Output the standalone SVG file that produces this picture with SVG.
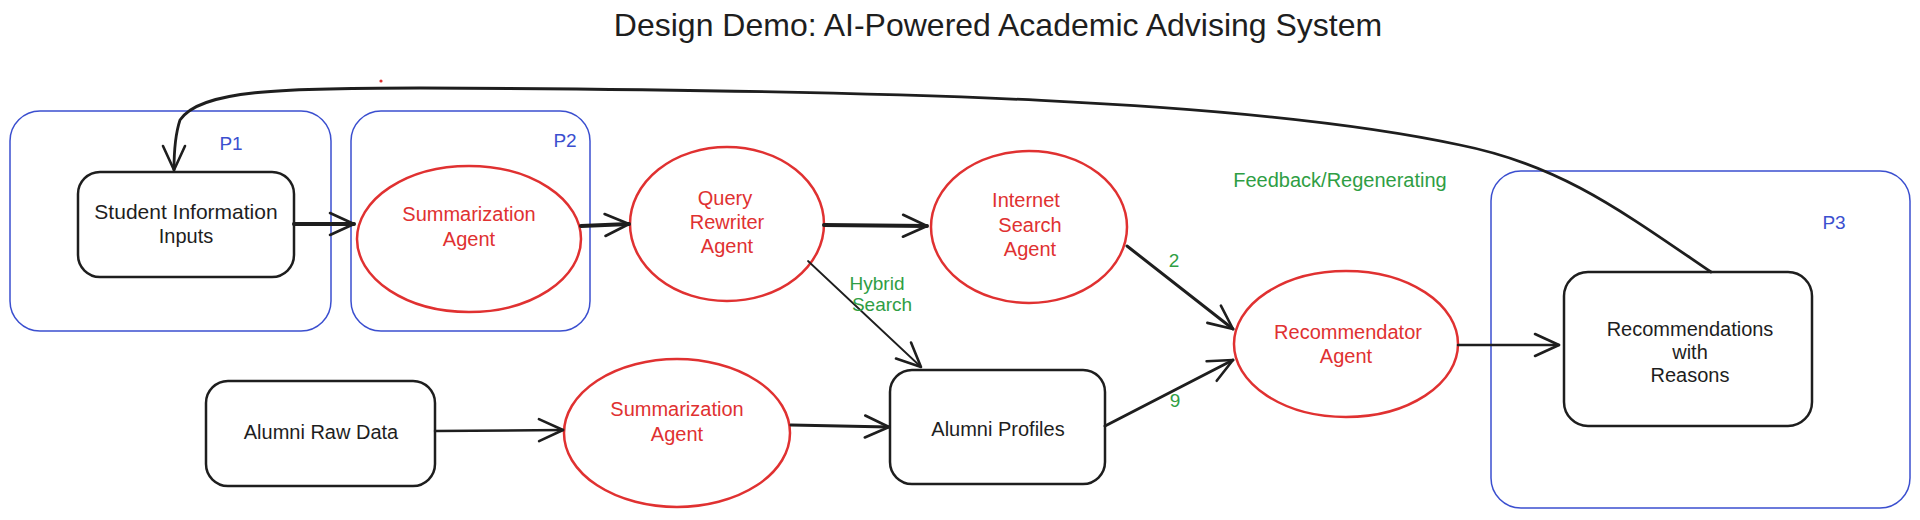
<svg xmlns="http://www.w3.org/2000/svg" width="1920" height="520" viewBox="0 0 1920 520">
<defs>
<marker id="arr" markerUnits="userSpaceOnUse" markerWidth="30" markerHeight="30" viewBox="-26 -14 30 28" refX="0" refY="0" orient="auto">
<path d="M-24,-11 L0,0 L-24,11" fill="none" stroke="#1e1e1e" stroke-width="2.6" stroke-linecap="round" stroke-linejoin="round"/>
</marker>
</defs>
<style>
text{font-family:"Liberation Sans","DejaVu Sans",sans-serif;text-anchor:middle;dominant-baseline:middle}
.t{font-size:20px;fill:#1e1e1e}
.r{font-size:20px;fill:#e03131}
.g{font-size:19px;fill:#2f9e44}
.b{font-size:19px;fill:#3b4fcf}
.grp{fill:none;stroke:#3b4fcf;stroke-width:1.5}
.box{fill:none;stroke:#1e1e1e;stroke-width:2.5}
.ell{fill:none;stroke:#e03131;stroke-width:2.5}
.c{fill:none;stroke:#1e1e1e;stroke-linecap:round}
</style>
<rect width="1920" height="520" fill="#ffffff"/>
<text x="998" y="28" style="font-size:32px;fill:#1e1e1e">Design Demo: AI-Powered Academic Advising System</text>

<g id="P1"><rect class="grp" x="10" y="111" width="321" height="220" rx="30"/><text class="b" x="231" y="145">P1</text></g>
<g id="P2"><rect class="grp" x="351" y="111" width="239" height="220" rx="30"/><text class="b" x="565" y="142">P2</text></g>
<g id="P3"><rect class="grp" x="1491" y="171" width="419" height="337" rx="30"/><text class="b" x="1834" y="224">P3</text></g>

<g id="student"><rect class="box" x="78" y="172" width="216" height="105" rx="22"/><text class="t" x="186" y="213" style="font-size:21px">Student Information</text><text class="t" x="186" y="238">Inputs</text></g>
<g id="summ1"><ellipse class="ell" cx="469" cy="239" rx="112" ry="73"/><text class="r" x="469" y="216">Summarization</text><text class="r" x="469" y="241">Agent</text></g>
<g id="query"><ellipse class="ell" cx="727" cy="224" rx="97" ry="77"/><text class="r" x="725" y="200">Query</text><text class="r" x="727" y="224">Rewriter</text><text class="r" x="727" y="248">Agent</text></g>
<g id="internet"><ellipse class="ell" cx="1029" cy="227" rx="98" ry="76"/><text class="r" x="1026" y="202">Internet</text><text class="r" x="1030" y="227">Search</text><text class="r" x="1030" y="251">Agent</text></g>
<g id="recommendator"><ellipse class="ell" cx="1346" cy="344" rx="112" ry="73"/><text class="r" x="1348" y="334">Recommendator</text><text class="r" x="1346" y="358">Agent</text></g>
<g id="recommendations"><rect class="box" x="1564" y="272" width="248" height="154" rx="24"/><text class="t" x="1690" y="331">Recommendations</text><text class="t" x="1690" y="354">with</text><text class="t" x="1690" y="377">Reasons</text></g>
<g id="alumniraw"><rect class="box" x="206" y="381" width="229" height="105" rx="22"/><text class="t" x="321" y="434">Alumni Raw Data</text></g>
<g id="summ2"><ellipse class="ell" cx="677" cy="433" rx="113" ry="74"/><text class="r" x="677" y="411">Summarization</text><text class="r" x="677" y="436">Agent</text></g>
<g id="alumniprof"><rect class="box" x="890" y="370" width="215" height="114" rx="22"/><text class="t" x="998" y="431">Alumni Profiles</text></g>

<g id="connectors">
<path class="c" d="M294,224 L354,224" stroke-width="4" marker-end="url(#arr)"/>
<path class="c" d="M581,226 L629,224" stroke-width="4" marker-end="url(#arr)"/>
<path class="c" d="M824,225 L927,226" stroke-width="4" marker-end="url(#arr)"/>
<path class="c" d="M808,261 L921,367" stroke-width="1.8" marker-end="url(#arr)"/>
<path class="c" d="M1127,246 L1233,329" stroke-width="3" marker-end="url(#arr)"/>
<path class="c" d="M1105,426 L1233,360" stroke-width="3" marker-end="url(#arr)"/>
<path class="c" d="M435,431 L563,430" stroke-width="2.5" marker-end="url(#arr)"/>
<path class="c" d="M791,425 L889,427" stroke-width="3" marker-end="url(#arr)"/>
<path class="c" d="M1458,345 L1559,345" stroke-width="2.5" marker-end="url(#arr)"/>
<path class="c" d="M1711,272 C1620,210 1560,165 1460,145 C1250,100 900,90 420,88 C280,88 200,90 180,120 C175,135 174,150 174,170" stroke-width="2.8" marker-end="url(#arr)"/>
<text class="g" x="877" y="285">Hybrid</text>
<text class="g" x="882" y="306">Search</text>
<text class="g" x="1174" y="262">2</text>
<text class="g" x="1175" y="402">9</text>
<text class="g" x="1340" y="182" style="font-size:20px">Feedback/Regenerating</text>
<circle cx="381" cy="81" r="1.6" fill="#e03131"/>
</g>
</svg>
